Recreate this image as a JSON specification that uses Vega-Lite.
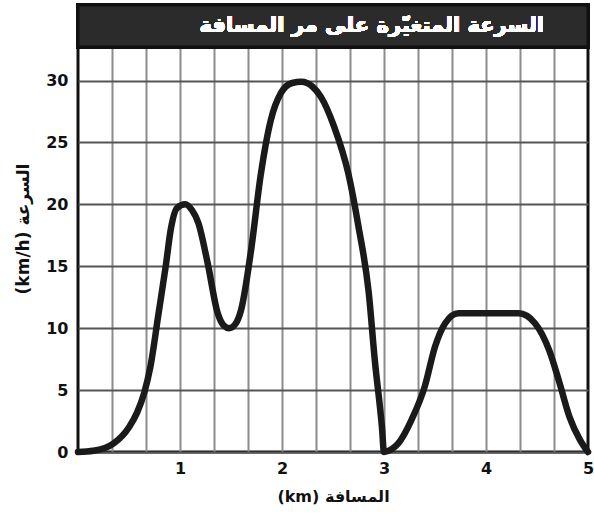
{
  "$schema": "https://vega.github.io/schema/vega-lite/v6.json",
  "autosize": {"type": "none"},
  "padding": {"left": 78, "top": 5, "right": 6, "bottom": 70},
  "width": 510,
  "height": 447,
  "background": "white",
  "config": {
    "view": {"stroke": "#111", "strokeWidth": 3},
    "font": "DejaVu Sans"
  },
  "resolve": {"axis": {"x": "independent"}},
  "data": {"values": [
    {"d": 0, "v": 0}, {"d": 0.15, "v": 0.1}, {"d": 0.35, "v": 0.7}, {"d": 0.5, "v": 2.0},
    {"d": 0.58, "v": 3.2}, {"d": 0.65, "v": 4.8}, {"d": 0.71, "v": 6.9}, {"d": 0.79, "v": 11.2},
    {"d": 0.86, "v": 15}, {"d": 0.91, "v": 18}, {"d": 0.97, "v": 19.7}, {"d": 1.05, "v": 20},
    {"d": 1.12, "v": 19.5}, {"d": 1.18, "v": 18.5}, {"d": 1.27, "v": 15.3}, {"d": 1.37, "v": 11.2},
    {"d": 1.43, "v": 10.2}, {"d": 1.48, "v": 10.0}, {"d": 1.54, "v": 10.3}, {"d": 1.6, "v": 11.5},
    {"d": 1.7, "v": 16.5}, {"d": 1.79, "v": 22.3}, {"d": 1.89, "v": 26.8}, {"d": 1.99, "v": 29},
    {"d": 2.1, "v": 29.8}, {"d": 2.19, "v": 29.9}, {"d": 2.3, "v": 29.5}, {"d": 2.38, "v": 28.7},
    {"d": 2.51, "v": 26.3}, {"d": 2.65, "v": 22.5}, {"d": 2.75, "v": 18.2}, {"d": 2.85, "v": 12.9},
    {"d": 2.91, "v": 7.4}, {"d": 2.98, "v": 2.0}, {"d": 3.0, "v": 0}, {"d": 3.07, "v": 0.2},
    {"d": 3.14, "v": 0.7}, {"d": 3.27, "v": 2.6}, {"d": 3.4, "v": 5.3}, {"d": 3.5, "v": 8.5},
    {"d": 3.6, "v": 10.4}, {"d": 3.73, "v": 11.2}, {"d": 4.0, "v": 11.2}, {"d": 4.32, "v": 11.2},
    {"d": 4.48, "v": 10.4}, {"d": 4.62, "v": 8.2}, {"d": 4.72, "v": 5.6}, {"d": 4.82, "v": 2.8},
    {"d": 4.92, "v": 1.0}, {"d": 5.0, "v": 0}
  ]},
  "layer": [
    {
      "mark": {"type": "line", "interpolate": "monotone", "color": "#1a1a1a", "strokeWidth": 6.5, "strokeCap": "round", "strokeJoin": "round"},
      "encoding": {
        "x": {"field": "d", "type": "quantitative",
          "scale": {"domain": [0, 5], "nice": false, "zero": false},
          "axis": {
            "orient": "bottom",
            "title": "(km) المسافة",
            "values": [1, 2, 3, 4, 5],
            "format": "d",
            "labelOverlap": false,
            "ticks": false, "domain": false, "grid": false,
            "labelFont": "DejaVu Sans", "labelFontSize": 16, "labelFontWeight": "bold", "labelColor": "#111",
            "labelPadding": 8, "labelFlush": false,
            "titleFont": "DejaVu Sans", "titleFontSize": 16, "titleFontWeight": "bold", "titleColor": "#111",
            "titlePadding": 12
          }
        },
        "y": {"field": "v", "type": "quantitative",
          "scale": {"domain": [0, 36.1], "nice": false},
          "axis": {
            "title": "(km/h) السرعة",
            "values": [0, 2.5, 5, 7.5, 10, 12.5, 15, 17.5, 20, 22.5, 25, 27.5, 30, 32.5],
            "labelExpr": "datum.value % 5 == 0 ? datum.label : ''",
            "labelOverlap": false,
            "ticks": false, "domain": false,
            "grid": true, "gridColor": "#555", "gridWidth": 2,
            "labelFont": "DejaVu Sans", "labelFontSize": 16, "labelFontWeight": "bold", "labelColor": "#111",
            "labelPadding": 10, "labelFlush": false,
            "titleFont": "DejaVu Sans", "titleFontSize": 17, "titleFontWeight": "bold", "titleColor": "#111",
            "titlePadding": 13
          }
        }
      }
    },
    {
      "mark": {"type": "rect", "color": "#2b2b2b", "stroke": "#111", "strokeWidth": 3},
      "encoding": {
        "x": {"datum": 0, "type": "quantitative",
          "axis": {
            "orient": "top",
            "title": null,
            "values": [0.33333, 0.66667, 1, 1.33333, 1.66667, 2, 2.33333, 2.66667, 3, 3.33333, 3.66667, 4, 4.33333, 4.66667],
            "labels": false, "ticks": false, "domain": false,
            "grid": true, "gridColor": "#8c8c8c", "gridWidth": 2
          }
        },
        "x2": {"datum": 5},
        "y": {"datum": 32.7, "type": "quantitative"},
        "y2": {"datum": 36.1}
      }
    },
    {
      "mark": {"type": "text", "color": "white", "fontSize": 21, "fontWeight": "bold", "font": "DejaVu Sans", "align": "center", "baseline": "middle"},
      "encoding": {
        "x": {"datum": 2.88, "type": "quantitative", "axis": null},
        "y": {"datum": 34.4, "type": "quantitative"},
        "text": {"value": "السرعة المتغيّرة على مر المسافة"}
      }
    }
  ]
}
